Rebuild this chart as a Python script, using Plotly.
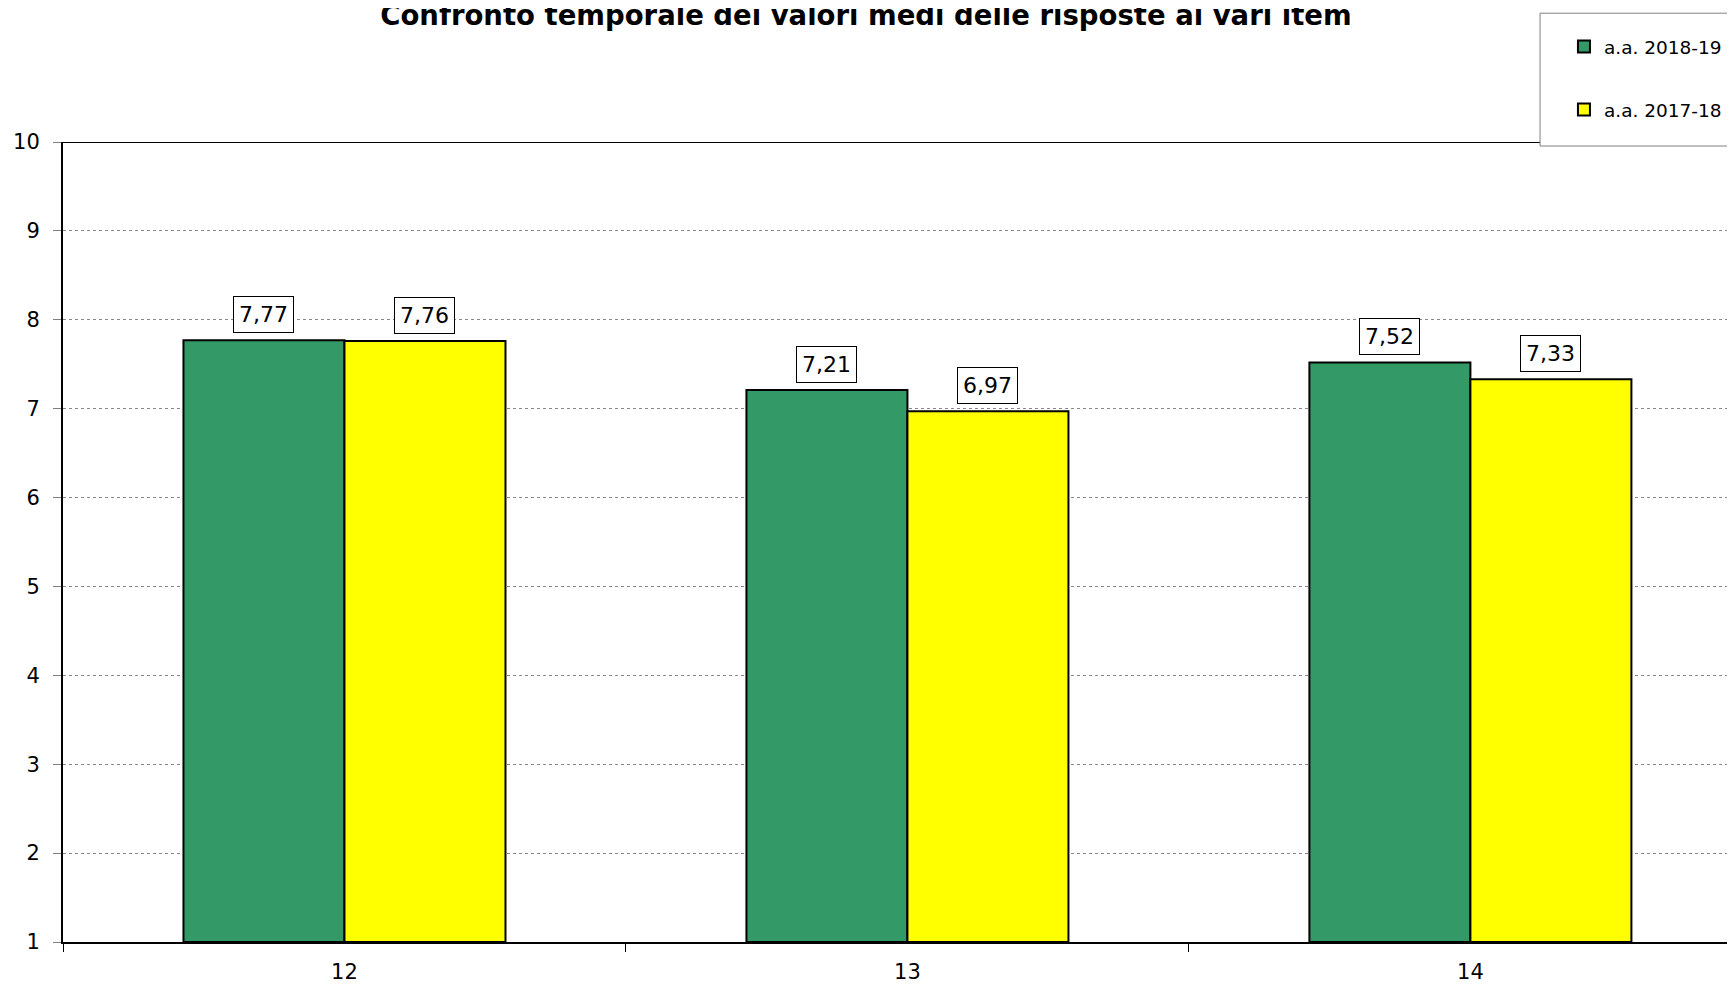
import plotly.graph_objects as go

categories = ["12", "13", "14"]
val_1819 = [7.77, 7.21, 7.52]
val_1718 = [7.76, 6.97, 7.33]
series_names = ["a.a. 2018-19", "a.a. 2017-18"]
title_text = "Confronto temporale dei valori medi delle risposte ai vari item"

FONT = "DejaVu Sans"
GREEN = "#339966"
YELLOW = "#FFFF00"

fig = go.Figure()
fig.add_trace(go.Bar(x=categories, y=[v - 1 for v in val_1819], base=1,
                     name=series_names[0], legendgroup="a",
                     marker=dict(color=GREEN, line=dict(color="black", width=2))))
fig.add_trace(go.Bar(x=categories, y=[v - 1 for v in val_1718], base=1,
                     name=series_names[1], legendgroup="b",
                     marker=dict(color=YELLOW, line=dict(color="black", width=2))))

# value labels in boxes
def fmt(v):
    return f"{v:.2f}".replace(".", ",")

half = 0.286 / 2
for i, (a, b) in enumerate(zip(val_1819, val_1718)):
    for xoff, v in ((-half, a), (half, b)):
        fig.add_annotation(x=i + xoff, y=v, xref="x", yref="y", text=fmt(v),
                           showarrow=False, yanchor="bottom", yshift=7,
                           bgcolor="white", bordercolor="black", borderwidth=1,
                           borderpad=5, font=dict(family=FONT, size=22, color="black"))

# top border of the plot area, then the legend frame over it
fig.add_shape(type="line", xref="paper", yref="y", x0=0, x1=1, y0=10, y1=10,
              line=dict(color="black", width=2))
fig.add_shape(type="rect", xref="paper", yref="paper", x0=0.8834, x1=1.05,
              y0=0.995, y1=1.161, fillcolor="white",
              line=dict(color="#808080", width=1), layer="above")

fig.update_layout(
    width=1727, height=976,
    paper_bgcolor="white", plot_bgcolor="white",
    margin=dict(l=55, r=0, t=134, b=42, autoexpand=False),
    barmode="group", bargap=0.428, bargroupgap=0,
    title=dict(text="<b>" + title_text + "</b>", x=0.4968, xanchor="center",
               y=0.992, yanchor="middle", yref="container",
               font=dict(family=FONT, size=27.5, color="black")),
    legend=dict(x=0.8977, xanchor="left", y=1.1425, yanchor="top",
                borderwidth=0, bgcolor="rgba(0,0,0,0)",
                traceorder="grouped", tracegroupgap=36,
                font=dict(family=FONT, size=18.5, color="black")),
    showlegend=True,
)
fig.update_xaxes(type="category", range=[-0.5, 2.47], tickson="boundaries",
                 ticks="outside", ticklen=8, tickcolor="black",
                 showline=True, linecolor="black", linewidth=2,
                 showgrid=False, ticklabelstandoff=10,
                 tickfont=dict(family=FONT, size=21, color="black"))
fig.update_yaxes(range=[1, 10], dtick=1, tick0=1, ticks="outside", ticklen=8,
                 tickcolor="#808080", showline=True, linecolor="black", linewidth=2,
                 showgrid=True, gridcolor="#888888", griddash="dot", gridwidth=1,
                 zeroline=False, ticklabelstandoff=9,
                 tickfont=dict(family=FONT, size=21, color="black"))

fig.write_html("out.html")
